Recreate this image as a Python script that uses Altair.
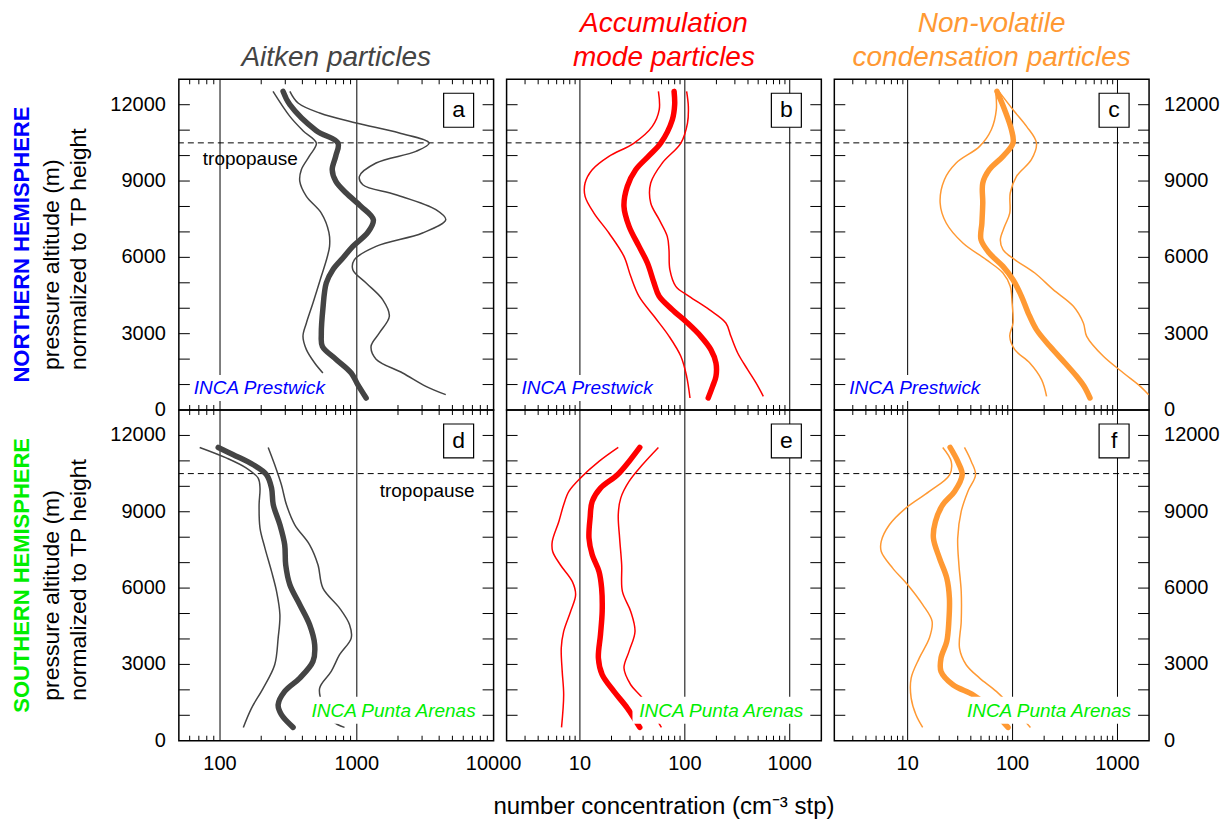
import altair as alt
import pandas as pd

FONT = "Liberation Sans"
W, H = 315, 331
GAP = 13

Y_DOMAIN = [0, 13000]
Y_TICKS = [1000, 2000, 3000, 4000, 5000, 6000, 7000, 8000, 9000, 10000, 11000, 12000]
Y_LABELS = [0, 3000, 6000, 9000, 12000]
TROPOPAUSE_ALT = [10500]

X_DOMAIN_AITKEN = [50, 10000]
X_DOMAIN_SMALL = [2, 2000]
X_DECADES_AITKEN = [100, 1000]
X_DECADES_SMALL = [10, 100, 1000]
X_MINOR_AITKEN = [60, 70, 80, 90, 200, 300, 400, 500, 600, 700, 800, 900,
                  2000, 3000, 4000, 5000, 6000, 7000, 8000, 9000]
X_MINOR_SMALL = [3, 4, 5, 6, 7, 8, 9, 20, 30, 40, 50, 60, 70, 80, 90,
                 200, 300, 400, 500, 600, 700, 800, 900]
X_LABELS_AITKEN = [100, 1000, 10000]
X_LABELS_SMALL = [10, 100, 1000]

C_AITKEN = "#444444"
C_ACCU = "#ff0000"
C_NV = "#ff9933"
C_NORTH = "#0000ff"
C_SOUTH = "#00ee00"

# ---------------- panel a : Aitken, Prestwick ----------------
A_LO_ALT = [12524, 11541, 10978, 10493, 9996, 9445, 8987, 8397, 7742, 6983, 6432, 5974, 5254, 4206, 3420, 2896, 2372, 1848, 1455]
A_LO_VAL = [244, 324, 404, 506, 452, 393, 383, 428, 550, 625, 632, 605, 550, 478, 428, 404, 428, 492, 565]
A_MEAN_ALT = [12524, 12000, 10978, 10493, 9996, 9445, 8987, 8528, 8005, 7480, 6983, 6432, 5974, 5516, 4992, 3983, 2987, 2503, 1998, 1455, 996, 472]
A_MEAN_VAL = [289, 324, 506, 728, 703, 661, 703, 836, 1073, 1321, 1203, 935, 791, 668, 598, 565, 550, 560, 703, 910, 1016, 1170]
A_HI_ALT = [12524, 12066, 11673, 11280, 10886, 10493, 10166, 9708, 9184, 8856, 8463, 7873, 7480, 6957, 6432, 5908, 5516, 4992, 4337, 3683, 3028, 2503, 1998, 1455, 931, 603]
A_HI_VAL = [324, 372, 535, 989, 2046, 3383, 2706, 1383, 1045, 1106, 1932, 3785, 4470, 3022, 1383, 961, 935, 1170, 1545, 1729, 1462, 1271, 1383, 2163, 3199, 4470]

# ---------------- panel b : Accumulation, Prestwick ----------------
B_LO_ALT = [12524, 11804, 11149, 10493, 9970, 9445, 8922, 8397, 7742, 6957, 6040, 5254, 4468, 3683, 2896, 2110, 1323, 472]
B_LO_VAL = [56, 57, 49, 32.8, 18.9, 13.1, 11.2, 11.2, 13.6, 18.9, 26.3, 30.5, 36.6, 50.9, 70.8, 91.6, 104, 112]
B_MEAN_ALT = [12524, 12000, 11410, 10493, 9996, 9445, 8790, 8005, 7219, 6432, 5778, 4992, 4468, 3943, 3420, 2896, 2372, 1848, 1323, 931, 472]
B_MEAN_VAL = [79, 80, 76, 59, 45.6, 34, 28.3, 26.3, 29.4, 36.6, 44, 50.9, 56.9, 76, 106, 142, 177, 198, 198, 184, 167]
B_HI_ALT = [12524, 11935, 11280, 10493, 9708, 8922, 8136, 7480, 6826, 6302, 5516, 4861, 4468, 3943, 3420, 2896, 2241, 1586, 1062, 537]
B_HI_VAL = [104, 108, 106, 91.6, 61, 47.3, 47.3, 57, 68, 70.6, 72, 82, 110, 171, 246, 275, 319, 397, 477, 560]

# ---------------- panel c : Non-volatile, Prestwick ----------------
C_LO_ALT = [12524, 11804, 11018, 10362, 9708, 9053, 8136, 7350, 6564, 5908, 5385, 4861, 4206, 3420, 2896, 2372, 1848, 1193, 537]
C_LO_VAL = [69, 70, 62.7, 48.5, 29, 22.4, 20.4, 23.3, 33.6, 56, 81, 95, 99, 101, 94, 105, 146, 189, 211]
C_MEAN_ALT = [12524, 11804, 11018, 10493, 9970, 9445, 8922, 8136, 7350, 6695, 6171, 5646, 5122, 4468, 3812, 3159, 2503, 1848, 1323, 931, 472]
C_MEAN_VAL = [71, 84, 97.5, 101, 81, 60, 52, 52, 51, 50, 60, 81, 101, 121.6, 141, 169, 227, 316, 408, 480, 547]
C_HI_ALT = [12524, 11804, 11149, 10493, 9839, 9184, 8529, 7742, 7219, 6695, 6302, 5908, 5385, 4730, 4075, 3420, 2896, 2110, 1455, 931, 603]
C_HI_VAL = [74, 101, 136, 169, 151, 109, 95, 94, 84, 76.5, 81, 105, 163, 244, 380, 473, 509, 734, 1140, 1648, 1982]

# ---------------- panel d : Aitken, Punta Arenas ----------------
D_LO_ALT = [11528, 11109, 10716, 10323, 9930, 9275, 8358, 7572, 6655, 5869, 4952, 4035, 2987, 2070, 1284, 524]
D_LO_VAL = [71, 112, 156, 190, 196, 193, 196, 213, 238, 259, 274, 266, 251, 207, 170, 148]
D_MEAN_ALT = [11528, 11240, 10847, 10454, 9930, 9275, 8489, 7703, 6917, 6131, 5348, 4559, 3773, 3118, 2463, 1939, 1415, 1022, 524]
D_MEAN_VAL = [97, 125, 175, 219, 238, 245, 274, 297, 302, 324, 383, 452, 492, 478, 383, 297, 266, 281, 342]
D_HI_ALT = [11528, 10847, 10061, 9275, 8489, 7703, 6917, 6000, 5214, 4559, 4035, 3380, 2725, 2070, 1450, 760, 524]
D_HI_VAL = [225, 251, 281, 306, 352, 452, 520, 565, 748, 885, 910, 748, 650, 535, 560, 668, 813]

# ---------------- panel e : Accumulation, Punta Arenas ----------------
E_LO_ALT = [11528, 10978, 10323, 9799, 9275, 8620, 7834, 7441, 6917, 6262, 5738, 5083, 4297, 3642, 2725, 1808, 524]
E_LO_VAL = [23.2, 15.2, 10.1, 7.85, 7.0, 6.3, 5.45, 5.5, 6.5, 8.45, 9.1, 8.15, 7.0, 6.64, 6.78, 7.0, 6.68]
E_MEAN_ALT = [11528, 10978, 10454, 9930, 9406, 8751, 7965, 7310, 6655, 6000, 5083, 4166, 3249, 2594, 1939, 1284, 524]
E_MEAN_VAL = [37.2, 29.4, 22.8, 15.7, 13.1, 12.5, 12.2, 13.1, 15.2, 16.1, 16.3, 15.7, 15.0, 16.3, 21.1, 28.3, 37.2]
E_HI_ALT = [11528, 10847, 10192, 9537, 8882, 7965, 6917, 5869, 5083, 4297, 3511, 2856, 2201, 1677, 524]
E_HI_VAL = [56, 39.4, 29.4, 24.5, 23.2, 23.9, 25, 25.4, 30.5, 33.5, 29.4, 26.3, 30.5, 39.4, 59.8]

# ---------------- panel f : Non-volatile, Punta Arenas ----------------
F_LO_ALT = [11528, 10978, 10454, 9799, 9144, 8489, 7834, 7441, 6786, 6131, 5348, 4690, 4035, 3249, 2463, 1677, 1022, 524]
F_LO_VAL = [21.6, 26, 25.1, 16.1, 9.6, 6.7, 5.6, 5.6, 7.2, 10, 13.9, 17.1, 16.1, 12.9, 10.8, 10.8, 12, 13.9]
F_MEAN_ALT = [11528, 10978, 10454, 9799, 9275, 8620, 7965, 7179, 6393, 5607, 4690, 3904, 3249, 2725, 2201, 1808, 1415, 524]
F_MEAN_VAL = [25.4, 30, 33.1, 28, 21.6, 18.4, 17.6, 20.1, 23.6, 25, 24.7, 23.6, 20.8, 20.8, 27, 41.9, 56.2, 90.6]
F_HI_ALT = [11528, 10978, 10454, 9799, 9013, 7965, 6917, 5869, 4690, 3642, 2987, 2463, 1939, 1200, 524]
F_HI_VAL = [34.8, 40.4, 44.4, 37.5, 32.4, 30, 30.8, 32.4, 32.4, 31.2, 36.1, 48.5, 70, 105, 148]


def curves(lo_a, lo_v, m_a, m_v, hi_a, hi_v):
    rows = []
    for kind, aa, vv in (("lo", lo_a, lo_v), ("mean", m_a, m_v), ("hi", hi_a, hi_v)):
        for a, v in zip(aa, vv):
            rows.append({"kind": kind, "alt": a, "val": v})
    return pd.DataFrame(rows)


def one(s):
    return pd.DataFrame({"t": [s]})


def txt(s, x, y, **kw):
    base = dict(font=FONT, color="black")
    base.update(kw)
    return alt.Chart(one(s)).mark_text(**base).encode(
        x=alt.value(x), y=alt.value(y), text="t:N")


def box(x1, x2, y1, y2, **kw):
    return alt.Chart(one("")).mark_rect(**kw).encode(
        x=alt.value(x1), x2=alt.value(x2), y=alt.value(y1), y2=alt.value(y2))


def panel(letter, xdom, decades, minors, xlabels, df, color, yside, bottom,
          station, station_color, extras):
    xs = alt.Scale(type="log", domain=xdom, nice=False)
    ys = alt.Scale(domain=Y_DOMAIN, nice=False, zero=False)

    grid = alt.Chart(pd.DataFrame({"v": decades})).mark_rule(
        color="black", strokeWidth=1).encode(x=alt.X("v:Q", scale=xs, axis=None))
    mdf = pd.DataFrame({"v": minors})
    mtop = alt.Chart(mdf).mark_rule(color="black", strokeWidth=1).encode(
        x=alt.X("v:Q", scale=xs, axis=None), y=alt.value(0), y2=alt.value(5))
    mbot = alt.Chart(mdf).mark_rule(color="black", strokeWidth=1).encode(
        x=alt.X("v:Q", scale=xs, axis=None), y=alt.value(H - 5), y2=alt.value(H))
    ydf = pd.DataFrame({"v": Y_TICKS})
    yl = alt.Chart(ydf).mark_rule(color="black", strokeWidth=1).encode(
        y=alt.Y("v:Q", scale=ys, axis=None), x=alt.value(0), x2=alt.value(11))
    yr = alt.Chart(ydf).mark_rule(color="black", strokeWidth=1).encode(
        y=alt.Y("v:Q", scale=ys, axis=None), x=alt.value(W - 11), x2=alt.value(W))
    trop = alt.Chart(pd.DataFrame({"v": TROPOPAUSE_ALT})).mark_rule(
        color="black", strokeWidth=1, strokeDash=[6, 4]).encode(
        y=alt.Y("v:Q", scale=ys, axis=None))

    enc = dict(x=alt.X("val:Q", scale=xs, axis=None),
               y=alt.Y("alt:Q", scale=ys, axis=None),
               detail="kind:N", order=alt.Order("alt:Q"))
    thin = alt.Chart(df[df.kind != "mean"]).mark_line(
        color=color, strokeWidth=1.5, interpolate="catmull-rom", clip=True).encode(**enc)
    thick = alt.Chart(df[df.kind == "mean"]).mark_line(
        color=color, strokeWidth=5.5, strokeCap="round", interpolate="catmull-rom",
        clip=True).encode(**enc)

    layers = [grid, mtop, mbot, yl, yr, trop, thin, thick]

    # tick labels drawn as text through the scales
    if bottom:
        layers.append(alt.Chart(pd.DataFrame({"v": xlabels})).mark_text(
            font=FONT, fontSize=20, align="center", baseline="top", color="black").encode(
            x=alt.X("v:Q", scale=xs, axis=None), y=alt.value(H + 13),
            text=alt.Text("v:Q", format="d")))
    if yside == "left":
        layers.append(alt.Chart(pd.DataFrame({"v": Y_LABELS})).mark_text(
            font=FONT, fontSize=20, align="right", baseline="middle", color="black").encode(
            y=alt.Y("v:Q", scale=ys, axis=None), x=alt.value(-13),
            text=alt.Text("v:Q", format="d")))
    elif yside == "right":
        layers.append(alt.Chart(pd.DataFrame({"v": Y_LABELS})).mark_text(
            font=FONT, fontSize=20, align="left", baseline="middle", color="black").encode(
            y=alt.Y("v:Q", scale=ys, axis=None), x=alt.value(W + 15),
            text=alt.Text("v:Q", format="d")))

    if bottom:
        layers.append(box(126, 301, 287, 314, fill="white"))
        layers.append(txt(station, W - 18, 307, fontSize=19, fontStyle="italic",
                          align="right", baseline="alphabetic", color=station_color))
    else:
        layers.append(box(12, 153, 296, 322, fill="white"))
        layers.append(txt(station, 15, 315, fontSize=19, fontStyle="italic",
                          align="left", baseline="alphabetic", color=station_color))
    layers.append(box(W - 50, W - 20, 14, 48, fill="white", stroke="black", strokeWidth=1.2))
    layers.append(txt(letter, W - 35, 31, fontSize=23, align="center", baseline="middle"))
    layers.extend(extras)
    return alt.layer(*layers).properties(width=W, height=H)


def title_lines(lines, color):
    out = []
    n = len(lines)
    for i, s in enumerate(lines):
        out.append(txt(s, W / 2, -13 - 34 * (n - 1 - i), fontSize=28, fontStyle="italic",
                       align="center", baseline="alphabetic", color=color))
    return out


def hemisphere(name, color):
    return [
        txt(name, -157, H / 2, fontSize=22, fontWeight="bold", angle=270,
            align="center", baseline="middle", color=color),
        txt("pressure altitude (m)", -127, 291, fontSize=23, angle=270,
            align="left", baseline="middle"),
        txt("normalized to TP height", -100, 291, fontSize=23, angle=270,
            align="left", baseline="middle"),
    ]


pa = panel("a", X_DOMAIN_AITKEN, X_DECADES_AITKEN, X_MINOR_AITKEN, X_LABELS_AITKEN,
           curves(A_LO_ALT, A_LO_VAL, A_MEAN_ALT, A_MEAN_VAL, A_HI_ALT, A_HI_VAL),
           C_AITKEN, "left", False, "INCA Prestwick", C_NORTH,
           title_lines(["Aitken particles"], C_AITKEN)
           + hemisphere("NORTHERN HEMISPHERE", C_NORTH)
           + [txt("tropopause", 24, 80, fontSize=19, align="left", baseline="middle")])
pb = panel("b", X_DOMAIN_SMALL, X_DECADES_SMALL, X_MINOR_SMALL, X_LABELS_SMALL,
           curves(B_LO_ALT, B_LO_VAL, B_MEAN_ALT, B_MEAN_VAL, B_HI_ALT, B_HI_VAL),
           C_ACCU, None, False, "INCA Prestwick", C_NORTH,
           title_lines(["Accumulation", "mode particles"], C_ACCU))
pc = panel("c", X_DOMAIN_SMALL, X_DECADES_SMALL, X_MINOR_SMALL, X_LABELS_SMALL,
           curves(C_LO_ALT, C_LO_VAL, C_MEAN_ALT, C_MEAN_VAL, C_HI_ALT, C_HI_VAL),
           C_NV, "right", False, "INCA Prestwick", C_NORTH,
           title_lines(["Non-volatile", "condensation particles"], C_NV))
pd_ = panel("d", X_DOMAIN_AITKEN, X_DECADES_AITKEN, X_MINOR_AITKEN, X_LABELS_AITKEN,
            curves(D_LO_ALT, D_LO_VAL, D_MEAN_ALT, D_MEAN_VAL, D_HI_ALT, D_HI_VAL),
            C_AITKEN, "left", True, "INCA Punta Arenas", C_SOUTH,
            hemisphere("SOUTHERN HEMISPHERE", C_SOUTH)
            + [txt("tropopause", W - 19, 81, fontSize=19, align="right", baseline="middle")])
pe = panel("e", X_DOMAIN_SMALL, X_DECADES_SMALL, X_MINOR_SMALL, X_LABELS_SMALL,
           curves(E_LO_ALT, E_LO_VAL, E_MEAN_ALT, E_MEAN_VAL, E_HI_ALT, E_HI_VAL),
           C_ACCU, None, True, "INCA Punta Arenas", C_SOUTH,
           [txt("number concentration (cm\u207b\u00b3 stp)", W / 2, 404, fontSize=24,
                align="center", baseline="alphabetic")])
pf = panel("f", X_DOMAIN_SMALL, X_DECADES_SMALL, X_MINOR_SMALL, X_LABELS_SMALL,
           curves(F_LO_ALT, F_LO_VAL, F_MEAN_ALT, F_MEAN_VAL, F_HI_ALT, F_HI_VAL),
           C_NV, "right", True, "INCA Punta Arenas", C_SOUTH, [])

chart = alt.concat(pa, pb, pc, pd_, pe, pf, columns=3,
                   spacing={"row": 0, "column": GAP}, bounds="flush").properties(
    padding={"left": 10, "top": 9, "right": 5, "bottom": 2},
    background="white"
).configure_view(stroke="black", strokeWidth=1.5)

chart.save("out.html", embed_options={"renderer": "svg", "actions": False})
